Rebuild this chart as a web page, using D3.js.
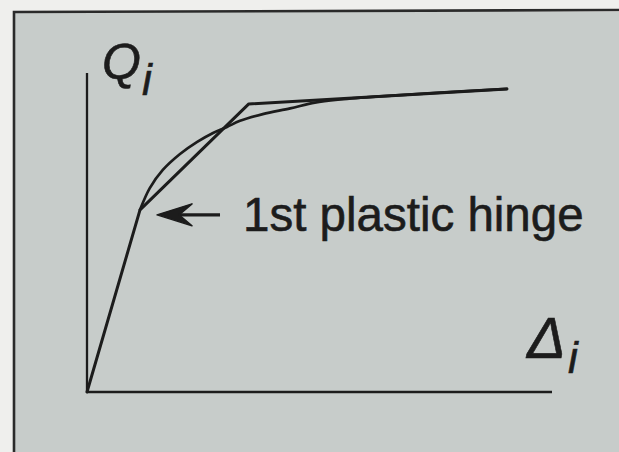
<!DOCTYPE html>
<html>
<head>
<meta charset="utf-8">
<script src="https://cdn.jsdelivr.net/npm/d3@7"></script>
<style>
  html, body { margin: 0; padding: 0; background: #efefed; }
  svg { display: block; }
</style>
</head>
<body>
<svg id="chart" width="619" height="452"></svg>
<script>
// Storey shear Q_i versus storey drift Δ_i (normalised units, 0–100)
// Trilinear idealisation: elastic, post-first-hinge, and hardening branches
const triDelta = [0, 11.4, 34.8, 90.3];
const triQ     = [0, 57.1, 90.3, 95.0];

// Smooth pushover response, starting at the first plastic hinge
const curveDelta = [11.4, 13.5, 16.3, 20.0, 23.7, 27.1, 30.1, 32.9, 37.8, 43.7, 49.0, 54.5, 63.0, 75.0, 90.3];
const curveQ     = [57.1, 63.9, 69.6, 74.6, 78.4, 81.2, 83.1, 85.0, 87.1, 88.9, 90.7, 91.7, 92.7, 93.8, 95.0];

const hingeIndex = 1;                    // vertex of the trilinear line at the first hinge
const hingeLabel = "1st plastic hinge";

const svg = d3.select("#chart");
const W = 619, H = 452;

// panel background and frame
svg.append("rect").attr("x", 14).attr("y", 12).attr("width", W - 14).attr("height", H - 12)
  .attr("fill", "#c7ccca");
svg.append("path")
  .attr("d", `M14,${H} L14,12 L${W},10`)
  .attr("fill", "none").attr("stroke", "#2a2a2a").attr("stroke-width", 2.6);

const x = d3.scaleLinear().domain([0, 100]).range([87, 552]);
const y = d3.scaleLinear().domain([0, 100]).range([392, 73]);

const ink = "#1c1c1c";
const font = "'Liberation Sans', Arial, Helvetica, sans-serif";

// axes
svg.append("line")
  .attr("x1", x(0)).attr("x2", x(0)).attr("y1", y(0)).attr("y2", y(100))
  .attr("stroke", ink).attr("stroke-width", 2.3);
svg.append("line")
  .attr("x1", x(0)).attr("x2", x(100)).attr("y1", y(0)).attr("y2", y(0))
  .attr("stroke", ink).attr("stroke-width", 2.3);

const line = d3.line().x(d => x(d[0])).y(d => y(d[1]));

// trilinear model
svg.append("path")
  .datum(d3.zip(triDelta, triQ))
  .attr("d", line)
  .attr("fill", "none").attr("stroke", ink).attr("stroke-width", 3)
  .attr("stroke-linejoin", "round").attr("stroke-linecap", "round");

// smooth response curve
svg.append("path")
  .datum(d3.zip(curveDelta, curveQ))
  .attr("d", line.curve(d3.curveCatmullRom.alpha(0.5)))
  .attr("fill", "none").attr("stroke", ink).attr("stroke-width", 2.7)
  .attr("stroke-linecap", "round");

// annotation arrow pointing at the first hinge
const hx = x(triDelta[hingeIndex]), hy = y(triQ[hingeIndex]);
const tipX = hx + 17, tipY = hy + 5;
svg.append("line")
  .attr("x1", tipX + 10).attr("x2", tipX + 63).attr("y1", tipY).attr("y2", tipY)
  .attr("stroke", ink).attr("stroke-width", 3.2);
svg.append("path")
  .attr("d", `M${tipX},${tipY} L${tipX + 35},${tipY - 11} L${tipX + 22},${tipY} L${tipX + 35},${tipY + 11} Z`)
  .attr("fill", ink).attr("stroke", ink).attr("stroke-width", 1.5).attr("stroke-linejoin", "round");

svg.append("text")
  .attr("x", tipX + 86).attr("y", tipY + 16)
  .attr("font-family", font)
  .attr("font-size", 47.5)
  .attr("fill", ink).attr("stroke", ink).attr("stroke-width", 0.6)
  .text(hingeLabel);

// axis titles
const qt = svg.append("text")
  .attr("x", 102).attr("y", 79)
  .attr("font-family", font)
  .attr("font-style", "italic")
  .attr("font-size", 50)
  .attr("fill", ink).attr("stroke", ink).attr("stroke-width", 0.6);
qt.append("tspan").text("Q");
qt.append("tspan").attr("dy", 16).attr("dx", 1).attr("font-size", 44).text("i");

const dt = svg.append("text")
  .attr("x", 527).attr("y", 358)
  .attr("font-family", font)
  .attr("font-style", "italic")
  .attr("font-size", 58)
  .attr("fill", ink).attr("stroke", ink).attr("stroke-width", 0.6);
dt.append("tspan").text("Δ");
dt.append("tspan").attr("dy", 15).attr("dx", 2).attr("font-size", 44).text("i");
</script>
</body>
</html>
